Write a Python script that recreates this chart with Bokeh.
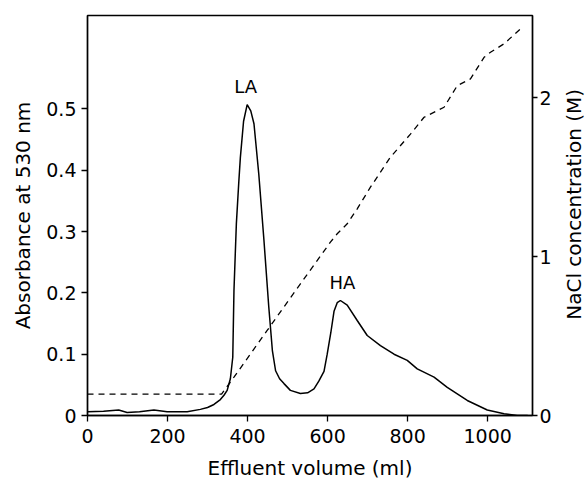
import math
from bokeh.plotting import figure
from bokeh.layouts import row
from bokeh.models import Range1d, LinearAxis, FixedTicker, ColumnDataSource
from bokeh.embed import file_html
from bokeh.resources import INLINE
from bokeh.core.properties import value

# Absorbance at 530 nm (solid curve)
volume_abs = [0, 40, 78, 99, 130, 166, 199, 249, 282, 300, 316, 332, 341, 349, 357,
              363, 366, 372, 378, 382, 390, 399, 408, 416, 428, 441, 453, 462, 470,
              480, 491, 507, 532, 550, 566, 578, 591, 599, 608, 616, 624, 632, 649,
              674, 699, 732, 766, 799, 824, 866, 899, 949, 999, 1041, 1074, 1100]
absorbance = [0.006, 0.007, 0.009, 0.005, 0.006, 0.009, 0.006, 0.006, 0.010, 0.013,
              0.018, 0.026, 0.033, 0.041, 0.060, 0.095, 0.204, 0.313, 0.380, 0.421,
              0.480, 0.507, 0.497, 0.476, 0.394, 0.285, 0.177, 0.106, 0.073, 0.060,
              0.052, 0.041, 0.036, 0.037, 0.0435, 0.056, 0.072, 0.100, 0.135, 0.170,
              0.184, 0.1876, 0.180, 0.155, 0.1305, 0.114, 0.100, 0.090, 0.076, 0.0625,
              0.046, 0.0245, 0.009, 0.003, 0.0, 0.0]

# NaCl concentration (dashed curve)
volume_nacl = [0, 335, 366, 449, 532, 607, 624, 649, 674, 707, 757, 807, 841, 891,
               924, 957, 991, 1007, 1041, 1082]
nacl_m = [0.135, 0.135, 0.241, 0.535, 0.828, 1.09, 1.143, 1.206, 1.30, 1.436, 1.625,
          1.77, 1.876, 1.939, 2.075, 2.117, 2.253, 2.285, 2.338, 2.432]

x_ticks = [0, 200, 400, 600, 800, 1000]
abs_ticks = [0, 0.1, 0.2, 0.3, 0.4, 0.5]
nacl_ticks = [0, 1, 2]

peak_names = ["LA", "HA"]
peak_vol = [395, 637]
peak_abs = [0.537, 0.2175]

right_title = "NaCl concentration (M)"

FONT = "DejaVu Sans"
W_MAIN = 560
W_SIDE = 26
H = 485

p = figure(width=W_MAIN, height=H, output_backend="svg", toolbar_location=None,
           x_range=Range1d(0, 1112), y_range=Range1d(0, 0.6525),
           min_border_left=87, min_border_right=W_MAIN - 532, min_border_top=15,
           min_border_bottom=70)
p.extra_y_ranges = {"nacl": Range1d(0, 2.516)}
p.grid.visible = False
p.outline_line_color = "black"
p.outline_line_width = 1.3
p.background_fill_color = "white"
p.border_fill_color = "white"

p.line(volume_abs, absorbance, line_color="black", line_width=1.5)
p.line(volume_nacl, nacl_m, y_range_name="nacl", line_color="black",
       line_width=1.3, line_dash="6 5")

src = ColumnDataSource(dict(x=peak_vol, y=peak_abs, t=peak_names))
p.text(x="x", y="y", text="t", source=src, text_font=value(FONT),
       text_font_size="18px", text_align="center", text_baseline="middle",
       text_color="black")

right = LinearAxis(y_range_name="nacl")
p.add_layout(right, "right")

def style(ax, ticks):
    ax.ticker = FixedTicker(ticks=ticks)
    ax.axis_line_color = "black"
    ax.axis_line_width = 1.5
    ax.major_tick_line_color = "black"
    ax.major_tick_line_width = 1.3
    ax.major_tick_in = 0
    ax.major_tick_out = 6
    ax.minor_tick_line_color = None
    ax.major_label_text_font = FONT
    ax.major_label_text_font_size = "19px"
    ax.major_label_text_color = "black"
    ax.axis_label_text_font = FONT
    ax.axis_label_text_font_size = "20px"
    ax.axis_label_text_font_style = "normal"
    ax.axis_label_text_color = "black"

xa = p.xaxis[0]
style(xa, x_ticks)
xa.axis_label = "Effluent volume (ml)"
xa.major_label_standoff = 7
xa.axis_label_standoff = 10

ya = p.yaxis[0]
style(ya, abs_ticks)
ya.axis_label = "Absorbance at 530 nm"
ya.major_label_overrides = {0: "0"}
ya.major_label_standoff = 5
ya.axis_label_standoff = 8

style(right, nacl_ticks)
right.major_tick_out = 5
right.major_label_standoff = 2

# narrow side panel holding the right axis title, reading bottom-to-top
side = figure(width=W_SIDE, height=H, output_backend="svg", toolbar_location=None,
              x_range=Range1d(W_MAIN, W_MAIN + W_SIDE), y_range=Range1d(H, 0),
              min_border=0, x_axis_type=None, y_axis_type=None)
side.grid.visible = False
side.outline_line_color = None
side.background_fill_color = "white"
side.border_fill_color = "white"
side.text(x=[573], y=[229], text=[right_title], angle=math.pi / 2,
          text_font=value(FONT), text_font_size="20px", text_align="center",
          text_baseline="middle", text_color="black")

layout = row(p, side, spacing=0)
open("out.html", "w").write(file_html(layout, INLINE))
